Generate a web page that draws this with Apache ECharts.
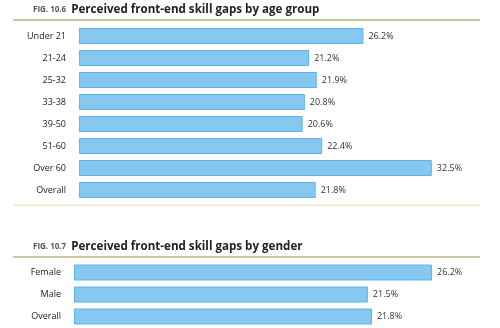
<!DOCTYPE html>
<html><head><meta charset="utf-8">
<script src="https://cdn.jsdelivr.net/npm/echarts@6/dist/echarts.min.js"></script>
<style>html,body{margin:0;padding:0;background:#fff}#c{width:500px;height:328px}</style>
</head><body><div id="c"></div>
<script>
const ageCategories = ['Under 21','21-24','25-32','33-38','39-50','51-60','Over 60','Overall'];
const ageValues = [26.2, 21.2, 21.9, 20.8, 20.6, 22.4, 32.5, 21.8];
const genderCategories = ['Female','Male','Overall'];
const genderValues = [26.2, 21.5, 21.8];
const title1 = 'Perceived front-end skill gaps by age group';
const title2 = 'Perceived front-end skill gaps by gender';

const font = '"Open Sans", Lato, sans-serif';
const barStyle = {color:'#86c8f0', borderColor:'#5cb4ea', borderWidth:1};
const labelStyle = {show:true, position:'right', distance:5, fontSize:9, color:'#333', fontFamily:font, formatter: p => p.value + '%'};
const catAxis = (idx, cats) => ({type:'category', gridIndex:idx, data:cats, inverse:true,
  axisLine:{show:false}, axisTick:{show:false},
  axisLabel:{fontSize:9, color:'#222', margin:13, fontFamily:font}});
const valAxis = (idx, max) => ({type:'value', gridIndex:idx, min:0, max:max, show:false, splitLine:{show:false}});
const rich = {
  a:{fontSize:8, color:'#555', fontFamily:font, fontWeight:'bold', lineHeight:14},
  b:{fontSize:11.6, color:'#222', fontFamily:font, fontWeight:'bold', lineHeight:14}};

const chart = echarts.init(document.getElementById('c'), null, {renderer:'canvas'});
chart.setOption({
  animation:false,
  title:[
    {text:'{a|FIG. 10.6} {b|'+title1+'}', left:28, top:-4, textStyle:{rich:rich}},
    {text:'{a|FIG. 10.7} {b|'+title2+'}', left:28, top:233, textStyle:{rich:rich}}
  ],
  graphic:[
    {type:'rect', shape:{x:13, y:19, width:467, height:2}, style:{fill:'#cdc5a0'}},
    {type:'rect', shape:{x:13, y:204.5, width:467, height:1.5}, style:{fill:'#ece7cf'}},
    {type:'rect', shape:{x:13, y:256, width:467, height:2}, style:{fill:'#cdc5a0'}}
  ],
  grid:[
    {left:79, top:25, width:380, height:176},
    {left:74, top:261.5, width:410, height:66}
  ],
  xAxis:[valAxis(0,35), valAxis(1,30)],
  yAxis:[catAxis(0, ageCategories), catAxis(1, genderCategories)],
  series:[
    {type:'bar', xAxisIndex:0, yAxisIndex:0, data:ageValues, barWidth:16, itemStyle:barStyle, label:labelStyle},
    {type:'bar', xAxisIndex:1, yAxisIndex:1, data:genderValues, barWidth:16, itemStyle:barStyle, label:labelStyle}
  ]
});
</script></body></html>
